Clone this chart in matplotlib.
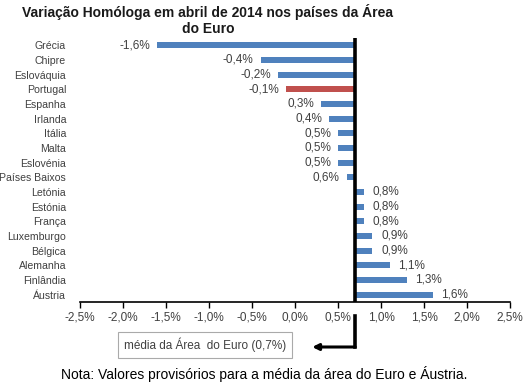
import matplotlib
matplotlib.use("Agg")
import matplotlib.pyplot as plt
from matplotlib.lines import Line2D
from matplotlib.transforms import blended_transform_factory

countries = ["Grécia", "Chipre", "Eslováquia", "Portugal", "Espanha", "Irlanda",
             "Itália", "Malta", "Eslovénia", "Países Baixos", "Letónia", "Estónia",
             "França", "Luxemburgo", "Bélgica", "Alemanha", "Finlândia", "Áustria"]
values = [-1.6, -0.4, -0.2, -0.1, 0.3, 0.4, 0.5, 0.5, 0.5, 0.6, 0.8, 0.8, 0.8,
          0.9, 0.9, 1.1, 1.3, 1.6]
euro_avg = 0.7
xticks = [-2.5, -2.0, -1.5, -1.0, -0.5, 0.0, 0.5, 1.0, 1.5, 2.0, 2.5]

title = "Variação Homóloga em abril de 2014 nos países da Área\ndo Euro"
avg_label = "média da Área  do Euro (0,7%)"
note = "Nota: Valores provisórios para a média da área do Euro e Áustria."

plt.rcParams['font.family'] = ['Liberation Sans', 'DejaVu Sans']

W, H = 531, 387
fig = plt.figure(figsize=(W / 100, H / 100), dpi=100)
L, R, T, B = 80, 510, 38, 302
ax = fig.add_axes([L / W, 1 - B / H, (R - L) / W, (B - T) / H])

blue = "#4F81BD"
red = "#C0504D"
txtc = "#404040"
colors = [red if c == "Portugal" else blue for c in countries]
ypos = list(range(len(countries)))
widths = [v - euro_avg for v in values]
ax.barh(ypos, widths, left=euro_avg, height=0.42, color=colors, zorder=2)

for y, v in zip(ypos, values):
    txt = f"{v:.1f}%".replace(".", ",")
    if v < euro_avg:
        ax.text(v - 0.08, y, txt, ha="right", va="center", fontsize=8.5, color=txtc)
    else:
        ax.text(v + 0.1, y, txt, ha="left", va="center", fontsize=8.5, color=txtc)

ax.set_xlim(-2.5, 2.5)
ax.set_ylim(len(countries) - 0.5, -0.5)
ax.set_xticks(xticks)
ax.set_xticklabels([f"{t:.1f}%".replace(".", ",") for t in xticks], fontsize=8.5, color=txtc)
ax.set_yticks(ypos)
ax.set_yticklabels(countries, fontsize=7.6, color=txtc)
ax.tick_params(axis="y", length=0, pad=10)
ax.tick_params(axis="x", length=4, width=1, direction="out", pad=3)
for s in ["top", "right", "left"]:
    ax.spines[s].set_visible(False)
ax.spines["bottom"].set_linewidth(1.2)

ax.axvline(euro_avg, color="black", lw=2.6, zorder=3)

# connector from average to the label box
tr = blended_transform_factory(ax.transData, fig.transFigure)
y1 = 1 - 316 / H
y2 = 1 - 347 / H
fig.add_artist(Line2D([euro_avg, euro_avg], [y1, y2], transform=tr, color="black", lw=2.6,
                      solid_capstyle="projecting"))
ax.annotate("", xy=(0.2, y2), xycoords=tr, xytext=(euro_avg, y2), textcoords=tr,
            arrowprops=dict(arrowstyle="-|>", color="black", lw=2.2, mutation_scale=9,
                            shrinkA=0, shrinkB=0), annotation_clip=False)

fig.text(205 / W, 1 - 345 / H, avg_label, ha="center", va="center", fontsize=8.5,
         color=txtc,
         bbox=dict(boxstyle="square,pad=0.5", fc="white", ec="#AAAAAA", lw=0.8))

fig.text(264 / W, 1 - 374 / H, note, ha="center", va="center", fontsize=10, color="black")
fig.text(208 / W, 1 - 20 / H, title, ha="center", va="center", fontsize=10,
         fontweight="bold", linespacing=1.1, color="#1a1a1a")

fig.savefig("out.png", dpi=100)
